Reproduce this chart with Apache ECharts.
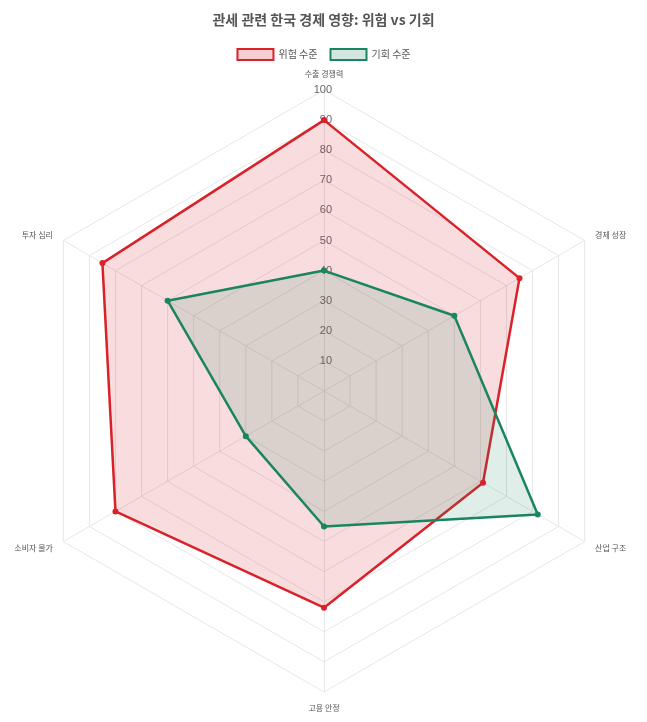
<!DOCTYPE html>
<html><head><meta charset="utf-8">
<script src="https://cdn.jsdelivr.net/npm/echarts@6/dist/echarts.min.js"></script>
<style>html,body{margin:0;padding:0;background:#fff}#c{width:647px;height:722px}</style>
</head><body><div id="c"></div>
<script>
const indicators = ['수출 경쟁력','경제 성장','산업 구조','고용 안정','소비자 물가','투자 심리'];
const riskValues = [90,75,61,72,80,85];
const oppValues = [40,50,82,45,30,60];
const seriesNames = ['위험 수준','기회 수준'];
const red = '#d9222a', green = '#1a8560';
// ECharts draws radar counter-clockwise; reorder so the chart runs clockwise
const order = [0,5,4,3,2,1];
const pick = arr => order.map(i=>arr[i]);
const chart = echarts.init(document.getElementById('c'));
chart.setOption({
  animation:false,
  title:{text:'관세 관련 한국 경제 영향: 위험 vs 기회',left:'center',top:8,
    textStyle:{fontSize:14,fontWeight:'bold',color:'#555',fontFamily:'Noto Sans CJK KR'}},
  legend:{top:43,left:'center',itemWidth:36,itemHeight:11,itemGap:12,icon:'rect',
    textStyle:{fontSize:10,color:'#555',fontFamily:'Noto Sans CJK KR'},
    data:[
      {name:seriesNames[0],itemStyle:{color:'rgba(217,34,42,0.22)',borderColor:red,borderWidth:2}},
      {name:seriesNames[1],itemStyle:{color:'rgba(26,133,96,0.2)',borderColor:green,borderWidth:2}}
    ]},
  radar:{
    center:[324,391],radius:301,shape:'polygon',splitNumber:10,nameGap:12,
    axisName:{color:'#555',fontSize:8,fontFamily:'Noto Sans CJK KR'},
    splitLine:{lineStyle:{color:'#e6e6e6'}},
    splitArea:{show:false},
    axisLine:{lineStyle:{color:'#e6e6e6'}},
    axisLabel:{show:false},
    indicator:pick(indicators).map((n,i)=>{
      const o={name:n,min:0,max:100};
      if(i===0)o.axisLabel={show:true,showMinLabel:false,color:'#666',fontSize:11,margin:-8,
        fontFamily:'Liberation Sans'};
      return o;
    })
  },
  series:[{type:'radar',symbol:'circle',symbolSize:6,data:[
    {name:seriesNames[0],value:pick(riskValues),lineStyle:{color:red,width:2.5},itemStyle:{color:red},areaStyle:{color:'rgba(217,34,42,0.22)'}},
    {name:seriesNames[1],value:pick(oppValues),lineStyle:{color:green,width:2.5},itemStyle:{color:green},areaStyle:{color:'rgba(26,133,96,0.2)'}}
  ]}]
});
</script></body></html>
